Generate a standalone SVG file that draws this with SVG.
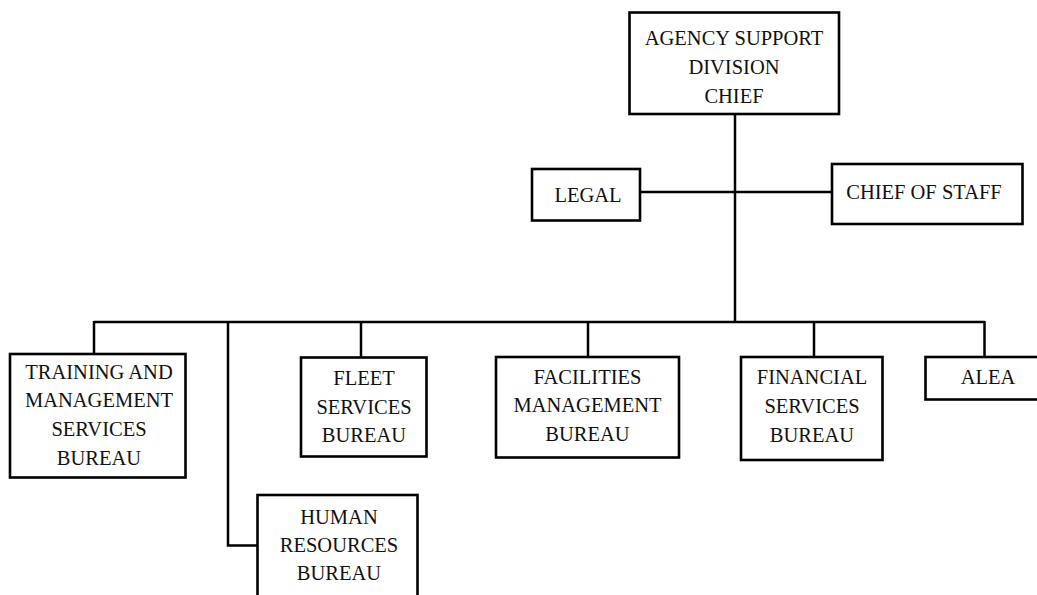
<svg xmlns="http://www.w3.org/2000/svg" width="1037" height="595" viewBox="0 0 1037 595">
<style>
.box{fill:#fff;stroke:#000;stroke-width:2.6}
.ln{fill:none;stroke:#000;stroke-width:2.5}
text{font-family:"Liberation Serif","Times New Roman",serif;font-size:20.5px;fill:#111;text-anchor:middle}
</style>
<rect width="1037" height="595" fill="#fff"/>
<g id="connectors">
<line class="ln" x1="735" y1="114" x2="735" y2="322"/>
<line class="ln" x1="640" y1="192" x2="832" y2="192"/>
<line class="ln" x1="94" y1="322" x2="985" y2="322"/>
<line class="ln" x1="94" y1="321" x2="94" y2="354"/>
<line class="ln" x1="361" y1="321" x2="361" y2="358"/>
<line class="ln" x1="588" y1="321" x2="588" y2="357"/>
<line class="ln" x1="814" y1="321" x2="814" y2="357"/>
<line class="ln" x1="984.5" y1="321" x2="984.5" y2="357"/>
<polyline class="ln" points="228,321 228,545.5 257,545.5"/>
</g>
<g id="chief">
<rect class="box" x="629.5" y="12.5" width="209.5" height="101.5"/>
<text x="734" y="45">AGENCY SUPPORT</text>
<text x="734" y="74">DIVISION</text>
<text x="734" y="102.5">CHIEF</text>
</g>
<g id="legal">
<rect class="box" x="532" y="169" width="108" height="51.5"/>
<text x="588" y="201.5">LEGAL</text>
</g>
<g id="chief-of-staff">
<rect class="box" x="832" y="164" width="190.5" height="60"/>
<text x="924" y="198.5">CHIEF OF STAFF</text>
</g>
<g id="training">
<rect class="box" x="10" y="354" width="175.5" height="123.5"/>
<text x="99" y="378.5">TRAINING AND</text>
<text x="99" y="407">MANAGEMENT</text>
<text x="99" y="436">SERVICES</text>
<text x="99" y="465">BUREAU</text>
</g>
<g id="fleet">
<rect class="box" x="301" y="357.5" width="125.5" height="99"/>
<text x="364" y="385">FLEET</text>
<text x="364" y="413.5">SERVICES</text>
<text x="364" y="441.5">BUREAU</text>
</g>
<g id="facilities">
<rect class="box" x="496" y="357" width="183" height="100.5"/>
<text x="587.5" y="383.5">FACILITIES</text>
<text x="587.5" y="412">MANAGEMENT</text>
<text x="587.5" y="440.5">BUREAU</text>
</g>
<g id="financial">
<rect class="box" x="741" y="357" width="141.5" height="103"/>
<text x="812" y="384">FINANCIAL</text>
<text x="812" y="413">SERVICES</text>
<text x="812" y="442">BUREAU</text>
</g>
<g id="alea">
<rect class="box" x="925.5" y="357" width="120" height="42.5"/>
<text x="988" y="384">ALEA</text>
</g>
<g id="human-resources">
<rect class="box" x="257.5" y="495" width="160" height="110"/>
<text x="339" y="523.5">HUMAN</text>
<text x="339" y="552">RESOURCES</text>
<text x="339" y="579.5">BUREAU</text>
</g>
</svg>
